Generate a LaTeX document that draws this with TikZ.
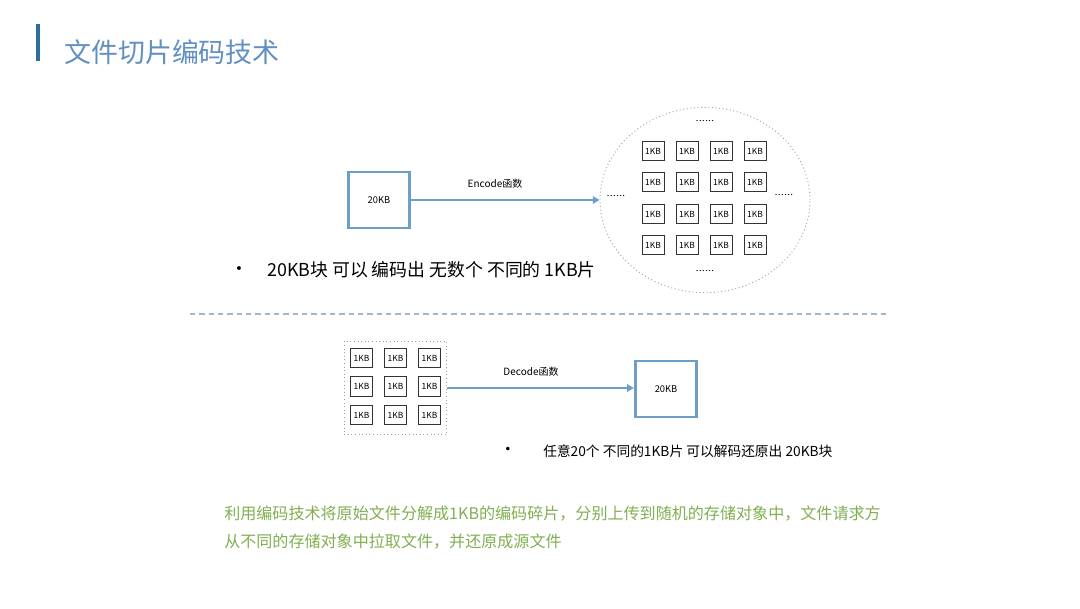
\documentclass[tikz,border=0pt]{standalone}
\usepackage{fontspec}
\setmainfont{Noto Sans CJK SC}
\newfontfamily\bulletfont{DejaVu Sans}
\usetikzlibrary{arrows.meta,shapes.geometric}
\definecolor{titleblue}{HTML}{6290C0}
\definecolor{barblue}{HTML}{2F6E9C}
\definecolor{boxblue}{HTML}{6E9DC8}
\definecolor{dashblue}{HTML}{9FB7CF}
\definecolor{greentext}{HTML}{82AF52}
\definecolor{dotgray}{HTML}{8FA3B5}
\tikzset{
  bigbox/.style={draw=boxblue, line width=2.2pt, minimum width=46pt, minimum height=42pt, inner sep=0pt, font=\fontsize{7}{8}\selectfont},
  kb/.style={draw=black!80, line width=0.6pt, minimum width=16.5pt, minimum height=14.5pt, inner sep=0pt, font=\fontsize{6.3}{7}\selectfont},
  flow/.style={draw=boxblue, line width=1.8pt, -{Triangle[length=5pt,width=5.5pt]}},
  lbl/.style={inner sep=0pt, font=\fontsize{7.5}{9}\selectfont},
  dots/.style={inner sep=0pt, font=\fontsize{6}{7}\selectfont, xscale=1.4},
}
\begin{document}
\begin{tikzpicture}[x=0.75pt,y=-0.75pt]
\useasboundingbox (0,0) rectangle (1080,608);
\fill[white] (0,0) rectangle (1080,608);
% title
\coordinate (bt) at (38,24);
\coordinate (bb) at (38,61);
\draw[barblue, line width=2.4pt] (bt) -- (bb);
\node[anchor=west, inner sep=0pt, text=titleblue, font=\fontsize{20.2}{22}\selectfont] (title) at (64,52) {文件切片编码技术};
% encode part
\node[bigbox] (src) at (379,200) {20KB};
\node[ellipse, draw=dotgray, dotted, line width=0.7pt, minimum width=157.5pt, minimum height=139pt, inner sep=0pt] (ell) at (705,200) {};
\draw[flow] (src.east) -- (ell.west);
\node[lbl] (enc) at (495,184) {Encode函数};
\foreach \c/\x in {1/653,2/687,3/721,4/755}{
  \foreach \r/\y in {1/151,2/182,3/214,4/245}{
    \node[kb] (k\r\c) at (\x,\y) {1KB};
  }
}
\node[dots] (dt) at (705,121) {......};
\node[dots] (db) at (705,271) {......};
\node[dots] (dl) at (616,196) {......};
\node[dots] (dr) at (784,195) {......};
\node[anchor=center, inner sep=0pt, font=\bulletfont\fontsize{10}{12}\selectfont] (b1) at (239,270) {•};
\node[anchor=west, inner sep=0pt, font=\fontsize{13.4}{15}\selectfont] (t1) at (267,270) {20KB块 可以 编码出 无数个 不同的 1KB片};
% separator
\coordinate (sl) at (190,314);
\coordinate (sr) at (886,314);
\draw[dashblue, line width=0.8pt, dash pattern=on 4pt off 3pt] (sl) -- (sr);
% decode part
\node[draw=dotgray, dotted, line width=0.7pt, minimum width=77pt, minimum height=70pt, inner sep=0pt] (grp) at (395.5,388) {};
\foreach \c/\x in {1/361.5,2/395.5,3/429.5}{
  \foreach \r/\y in {1/358,2/386.5,3/415}{
    \node[kb] (m\r\c) at (\x,\y) {1KB};
  }
}
\node[bigbox] (dst) at (666,389) {20KB};
\draw[flow] (grp.east) -- (grp.east -| dst.west);
\node[lbl] (dec) at (531,372) {Decode函数};
\node[anchor=center, inner sep=0pt, font=\bulletfont\fontsize{9}{12}\selectfont] (b2) at (508,450) {•};
\node[anchor=west, inner sep=0pt, font=\fontsize{10.3}{12}\selectfont] (t2) at (543,451) {任意20个 不同的1KB片 可以解码还原出 20KB块};
% summary
\node[anchor=north west, inner sep=0pt, align=left, text=greentext, font=\fontsize{12.05}{21}\selectfont] (sum) at (224,506) {利用编码技术将原始文件分解成1KB的编码碎片，分别上传到随机的存储对象中，文件请求方\\从不同的存储对象中拉取文件，并还原成源文件};
\end{tikzpicture}
\end{document}
